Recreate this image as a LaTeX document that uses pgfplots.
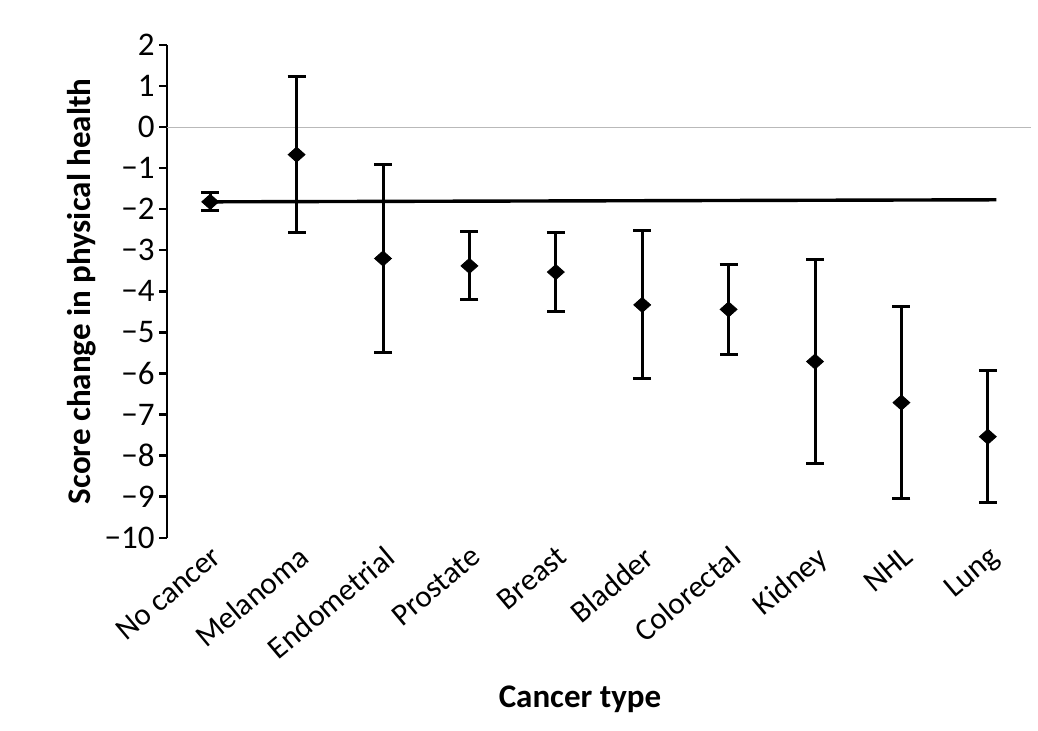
\documentclass[border=0pt]{standalone}
\usepackage{fontspec}
\setmainfont{Carlito}
\usepackage{pgfplots}
\usepackage{pgfplotstable}
\pgfplotsset{compat=1.18}
\usetikzlibrary{calc}

% mean score change and half-width of the interval per cancer type
\pgfplotstableread{
x y e
0 -1.82 0.22
1 -0.67 1.90
2 -3.20 2.28
3 -3.38 0.83
4 -3.53 0.97
5 -4.33 1.80
6 -4.44 1.09
7 -5.71 2.49
8 -6.71 2.33
9 -7.54 1.61
}\scoredata

\begin{document}
\begin{tikzpicture}
\begin{axis}[
  scale only axis,
  width=432pt, height=246.35pt,
  xmin=-0.5, xmax=9.5, ymin=-10, ymax=2,
  axis y line*=left, axis x line*=bottom,
  x axis line style={draw=none},
  y axis line style={line width=1.2pt, -},
  xtick={0,...,9},
  xticklabels={No cancer,Melanoma,Endometrial,Prostate,Breast,Bladder,Colorectal,Kidney,NHL,Lung},
  major x tick style={draw=none},
  ytick={-10,-9,-8,-7,-6,-5,-4,-3,-2,-1,0,1,2},
  yticklabels={−10,−9,−8,−7,−6,−5,−4,−3,−2,−1,0,1,2},
  y tick style={line width=1.2pt, black},
  tick align=outside, major tick length=4pt,
  yticklabel style={font=\fontsize{16.5}{19}\selectfont, inner sep=2pt},
  xticklabel style={font=\fontsize{15.5}{18}\selectfont, rotate=40, anchor=north east, inner sep=1pt, xshift=1.5pt, yshift=1.5pt},
  ylabel={Score change in physical health},
  ylabel style={font=\fontsize{16.5}{19}\bfseries, at={(axis description cs:0,0.5)}, anchor=center, yshift=42.5pt},
  xlabel={Cancer type},
  xlabel style={font=\fontsize{16.5}{19}\bfseries, at={(axis description cs:0.478,0)}, anchor=center, yshift=-81pt},
  clip=false,
]
% zero reference
\addplot[gray!55, line width=0.6pt] coordinates {(-0.5,0) (9.5,0)};
% means with error bars
\addplot[only marks, black, mark=diamond*, mark size=3.75pt,
  mark options={xscale=1.5, solid, fill=black},
  error bars/.cd, y dir=both, y explicit,
  error bar style={line width=1.5pt, black},
  error mark options={rotate=90, mark size=4.5pt, line width=1.5pt, black}]
  table[x=x, y=y, y error=e] {\scoredata};
% no-cancer baseline
\addplot[black, line width=1.7pt] coordinates {(0,-1.82) (9.1,-1.77)};
\coordinate (bbsw) at (rel axis cs:0,0);
\coordinate (bbne) at (rel axis cs:1,1);
\end{axis}
\pgfresetboundingbox
\path[use as bounding box] ($(bbsw)+(-83.5pt,-96.15pt)$) rectangle ($(bbne)+(3.5pt,22.5pt)$);
\end{tikzpicture}
\end{document}
